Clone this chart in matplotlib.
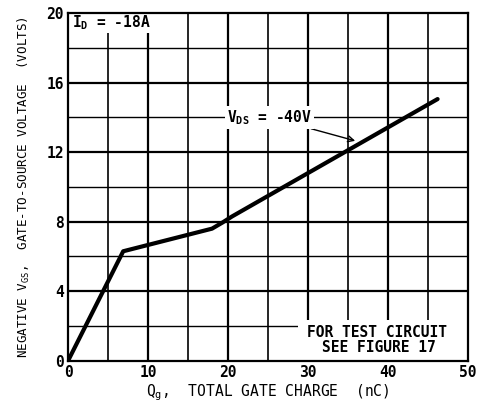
import matplotlib
matplotlib.use("Agg")
import matplotlib.pyplot as plt
from matplotlib.patches import Rectangle

plt.rcParams["font.family"] = ["DejaVu Sans Mono"]
plt.rcParams["font.weight"] = "bold"
plt.rcParams["mathtext.default"] = "regular"

# gate charge curve
q_g = [0, 6.9, 18.0, 19.3, 20.5, 46.2]
v_gs = [0, 6.3, 7.6, 7.95, 8.3, 15.05]

x_ticks = [0, 10, 20, 30, 40, 50]
y_ticks = [0, 4, 8, 12, 16, 20]
x_grid_major = [10, 20, 30, 40]
x_grid_minor = [5, 15, 25, 35, 45]
y_grid_major = [4, 8, 12, 16]
y_grid_minor = [2, 6, 10, 14, 18]

fig = plt.figure(figsize=(4.79, 4.05), dpi=100)
ax = fig.add_axes([0.142, 0.109, 0.835, 0.859])

ax.set_xlim(0, 50)
ax.set_ylim(0, 20)

for x in x_grid_major:
    ax.axvline(x, color="black", lw=1.6, zorder=1)
for x in x_grid_minor:
    ax.axvline(x, color="black", lw=1.2, zorder=1)
for y in y_grid_major:
    ax.axhline(y, color="black", lw=1.6, zorder=1)
for y in y_grid_minor:
    ax.axhline(y, color="black", lw=1.0, zorder=1)

# white boxes that break the grid behind the notes
ax.add_patch(Rectangle((28.7, 0), 21.3, 2.35, facecolor="white",
                       edgecolor="none", zorder=2))
ax.add_patch(Rectangle((0, 18.85), 11.8, 1.15, facecolor="white",
                       edgecolor="none", zorder=2))

ax.plot(q_g, v_gs, color="black", lw=3, solid_capstyle="round", zorder=4)

fs = 10.5
ax.text(0.5, 19.45, "I$_D$ = -18A", fontsize=fs, va="center", ha="left", zorder=3)
ax.text(38.6, 1.65, "FOR TEST CIRCUIT", fontsize=fs, ha="center", va="center", zorder=3)
ax.text(38.9, 0.75, "SEE FIGURE 17", fontsize=fs, ha="center", va="center", zorder=3)

ax.annotate("V$_{DS}$ = -40V", xy=(35.9, 12.65), xytext=(25.2, 14.0),
            fontsize=fs, ha="center", va="center", zorder=3,
            bbox=dict(facecolor="white", edgecolor="none", pad=1.5),
            arrowprops=dict(arrowstyle="->", color="black", lw=1.0,
                            shrinkA=0, shrinkB=0))

ax.set_xticks(x_ticks)
ax.set_yticks(y_ticks)
ax.tick_params(length=0, labelsize=fs, pad=3)
for s in ax.spines.values():
    s.set_linewidth(1.6)

ax.set_xlabel("Q$_g$,  TOTAL GATE CHARGE  (nC)", fontsize=fs, labelpad=2)
ax.set_ylabel("NEGATIVE V$_{GS}$,  GATE-TO-SOURCE VOLTAGE  (VOLTS)", fontsize=9, labelpad=10)

fig.savefig("out.png", dpi=100)
